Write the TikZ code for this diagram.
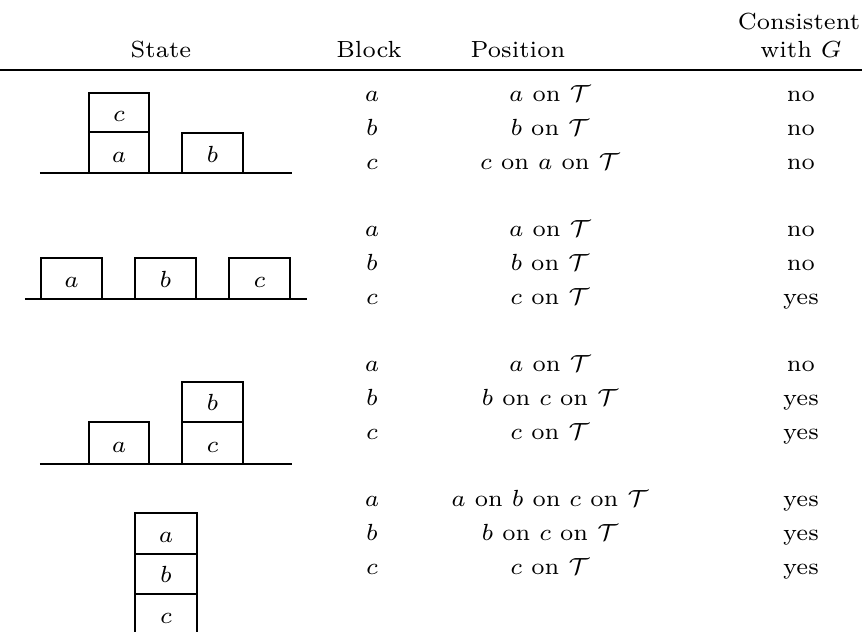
\documentclass[tikz,border=0pt]{standalone}
\begin{document}
\begin{tikzpicture}[x=0.3pt,y=-0.3pt,
  txt/.style={anchor=base,inner sep=0pt,font=\fontsize{7}{8.4}\selectfont},
  edge/.style={line width=0.6pt},
  blk/.style={line width=0.6pt}]
\useasboundingbox (0,0) rectangle (862,632);
\clip (0,0) rectangle (862,632);
% header
\node[txt] (hState) at (161,58) {State};
\node[txt] (hBlock) at (369,58) {Block};
\node[txt] (hPos) at (518,58) {Position};
\node[txt] (hCons) at (799,30) {Consistent};
\node[txt] (hWith) at (801,58) {with $G$};
\coordinate (rl) at (0,70); \coordinate (rr) at (862,70);
\draw[edge] (rl) -- (rr);
% rows
\def\pc{550}
\def\cc{801}
\def\bc{372}
% group 1
\node[txt] (b1a) at (\bc,102) {$a$};
\node[txt] (p1a) at (\pc,102) {$a$ on $\mathcal{T}$};
\node[txt] (c1a) at (\cc,102) {no};
\node[txt] (b1b) at (\bc,135.75) {$b$};
\node[txt] (p1b) at (\pc,135.75) {$b$ on $\mathcal{T}$};
\node[txt] (c1b) at (\cc,135.75) {no};
\node[txt] (b1c) at (\bc,169.5) {$c$};
\node[txt] (p1c) at (\pc,169.5) {$c$ on $a$ on $\mathcal{T}$};
\node[txt] (c1c) at (\cc,169.5) {no};
% group 2
\node[txt] (b2a) at (\bc,237) {$a$};
\node[txt] (p2a) at (\pc,237) {$a$ on $\mathcal{T}$};
\node[txt] (c2a) at (\cc,237) {no};
\node[txt] (b2b) at (\bc,270.75) {$b$};
\node[txt] (p2b) at (\pc,270.75) {$b$ on $\mathcal{T}$};
\node[txt] (c2b) at (\cc,270.75) {no};
\node[txt] (b2c) at (\bc,304.5) {$c$};
\node[txt] (p2c) at (\pc,304.5) {$c$ on $\mathcal{T}$};
\node[txt] (c2c) at (\cc,304.5) {yes};
% group 3
\node[txt] (b3a) at (\bc,372) {$a$};
\node[txt] (p3a) at (\pc,372) {$a$ on $\mathcal{T}$};
\node[txt] (c3a) at (\cc,372) {no};
\node[txt] (b3b) at (\bc,405.75) {$b$};
\node[txt] (p3b) at (\pc,405.75) {$b$ on $c$ on $\mathcal{T}$};
\node[txt] (c3b) at (\cc,405.75) {yes};
\node[txt] (b3c) at (\bc,439.5) {$c$};
\node[txt] (p3c) at (\pc,439.5) {$c$ on $\mathcal{T}$};
\node[txt] (c3c) at (\cc,439.5) {yes};
% group 4
\node[txt] (b4a) at (\bc,507) {$a$};
\node[txt] (p4a) at (\pc,507) {$a$ on $b$ on $c$ on $\mathcal{T}$};
\node[txt] (c4a) at (\cc,507) {yes};
\node[txt] (b4b) at (\bc,540.75) {$b$};
\node[txt] (p4b) at (\pc,540.75) {$b$ on $c$ on $\mathcal{T}$};
\node[txt] (c4b) at (\cc,540.75) {yes};
\node[txt] (b4c) at (\bc,574.5) {$c$};
\node[txt] (p4c) at (\pc,574.5) {$c$ on $\mathcal{T}$};
\node[txt] (c4c) at (\cc,574.5) {yes};
% state 1
\draw[blk] (89,173.5) rectangle (149,132);
\draw[blk] (89,132) rectangle (149,93);
\draw[blk] (182,173.5) rectangle (243,133);
\draw[edge] (40,173.5) -- (292,173.5);
\node[txt] (s1a) at (119,162.5) {$a$};
\node[txt] (s1c) at (119,121.5) {$c$};
\node[txt] (s1b) at (212.5,162.5) {$b$};
% state 2
\draw[blk] (41,299) rectangle (102,258);
\draw[blk] (135,299) rectangle (196,258);
\draw[blk] (229,299) rectangle (290,258);
\draw[edge] (25,299) -- (307,299);
\node[txt] (s2a) at (71.5,288) {$a$};
\node[txt] (s2b) at (165.5,288) {$b$};
\node[txt] (s2c) at (259.5,288) {$c$};
% state 3
\draw[blk] (89,464) rectangle (149,422);
\draw[blk] (182,464) rectangle (243,422);
\draw[blk] (182,422) rectangle (243,382);
\draw[edge] (40,464) -- (292,464);
\node[txt] (s3a) at (119,453) {$a$};
\node[txt] (s3c) at (212.5,453) {$c$};
\node[txt] (s3b) at (212.5,411) {$b$};
% state 4
\draw[blk] (135,554) rectangle (197,513);
\draw[blk] (135,594) rectangle (197,554);
\draw[blk] (135,636) rectangle (197,594);
\node[txt] (s4a) at (166,543) {$a$};
\node[txt] (s4b) at (166,583) {$b$};
\node[txt] (s4c) at (166,624) {$c$};
\end{tikzpicture}
\end{document}
